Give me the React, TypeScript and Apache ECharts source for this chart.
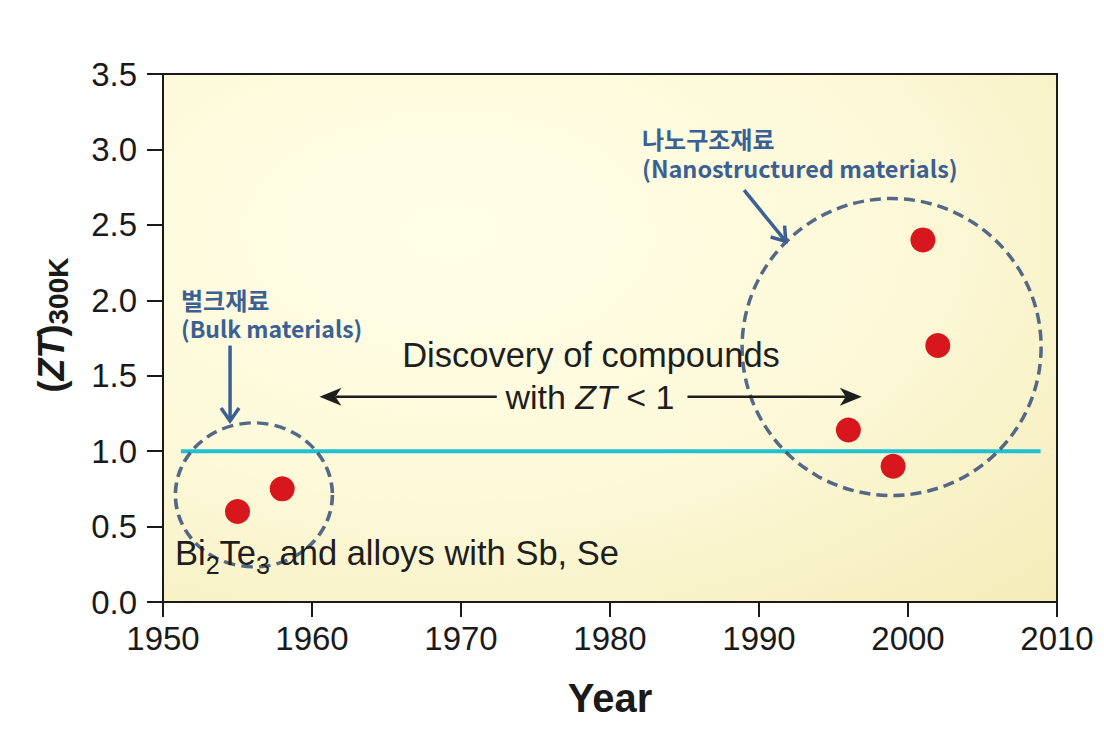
import React, { useEffect, useRef } from "react";
import * as echarts from "echarts";

// ---- data ----
const years = [1955, 1958, 1996, 1999, 2001, 2002];
const ztValues = [0.6, 0.75, 1.14, 0.9, 2.4, 1.7];
const thresholdLine = [[1951.2, 1.0], [2008.9, 1.0]];
// dashed group outlines: [centerYear, centerZT]
const groupCenters = [[1956.1, 0.71], [1998.9, 1.69]];
// blue annotation arrows: [x1, y1, x2, y2] (tail -> head)
const blueArrows = [
  [1954.5, 1.7, 1954.5, 1.2],
  [1989.0, 2.73, 1991.8, 2.39],
];
// black "Discovery" arrows: tail -> head
const blackArrows = [
  [1972.4, 1.36, 1960.5, 1.36],
  [1985.2, 1.36, 1996.9, 1.36],
];
// text pieces: [text, isSubscript]
const bulkCompound: [string, boolean][] = [
  ["Bi", false],
  ["2", true],
  ["Te", false],
  ["3", true],
  [" and alloys with Sb, Se", false],
];

const SANS = "'Liberation Sans', Arial, sans-serif";
const KR = "'Noto Sans CJK KR', 'Noto Sans', sans-serif";
const BLUE = "#3a6094";
const INK = "#1e1e1e";

let measureCtx: CanvasRenderingContext2D | null = null;
function textWidth(text: string, font: string) {
  if (!measureCtx) measureCtx = document.createElement("canvas").getContext("2d");
  if (!measureCtx) return text.length * 10;
  measureCtx.font = font;
  return measureCtx.measureText(text).width;
}

function arrowItem(kind: "blue" | "black") {
  return (params: any, api: any) => {
    const p1 = api.coord([api.value(0), api.value(1)]);
    const p2 = api.coord([api.value(2), api.value(3)]);
    const dx = p2[0] - p1[0];
    const dy = p2[1] - p1[1];
    const len = Math.sqrt(dx * dx + dy * dy);
    const ux = dx / len;
    const uy = dy / len;
    const nx = -uy;
    const ny = ux;
    if (kind === "blue") {
      const L = 13, W = 9;
      return {
        type: "group",
        children: [
          { type: "line", shape: { x1: p1[0], y1: p1[1], x2: p2[0], y2: p2[1] }, style: { stroke: BLUE, lineWidth: 3.5 } },
          {
            type: "polyline",
            shape: {
              points: [
                [p2[0] - ux * L + nx * W, p2[1] - uy * L + ny * W],
                [p2[0], p2[1]],
                [p2[0] - ux * L - nx * W, p2[1] - uy * L - ny * W],
              ],
            },
            style: { stroke: BLUE, lineWidth: 3.5, fill: "none" },
          },
        ],
      };
    }
    const L = 22, W = 9, N = 16;
    return {
      type: "group",
      children: [
        { type: "line", shape: { x1: p1[0], y1: p1[1], x2: p2[0] - ux * N, y2: p2[1] - uy * N }, style: { stroke: INK, lineWidth: 2.5 } },
        {
          type: "polygon",
          shape: {
            points: [
              [p2[0], p2[1]],
              [p2[0] - ux * L + nx * W, p2[1] - uy * L + ny * W],
              [p2[0] - ux * N, p2[1] - uy * N],
              [p2[0] - ux * L - nx * W, p2[1] - uy * L - ny * W],
            ],
          },
          style: { fill: INK },
        },
      ],
    };
  };
}

function buildCompoundLabel() {
  const mainSize = 34.5;
  const subSize = 25;
  let x = 175;
  const out: any[] = [];
  bulkCompound.forEach(([t, sub]) => {
    const size = sub ? subSize : mainSize;
    out.push({
      type: "text",
      x,
      y: sub ? 565 : 553,
      z: 100,
      style: { text: t, fontFamily: SANS, fontSize: size, fill: INK, verticalAlign: "middle", align: "left" },
    });
    x += textWidth(t, `${size}px ${SANS}`);
  });
  return out;
}

function buildYName() {
  const main = 36;
  const sub = 28;
  const pieces = [
    { t: "(", font: `bold ${main}px ${SANS}`, size: main, italic: false, dy: 0 },
    { t: "ZT", font: `italic bold ${main}px ${SANS}`, size: main, italic: true, dy: 0 },
    { t: ")", font: `bold ${main}px ${SANS}`, size: main, italic: false, dy: 0 },
    { t: "300K", font: `bold ${sub}px ${SANS}`, size: sub, italic: false, dy: 7 },
  ];
  const widths = pieces.map((p) => textWidth(p.t, p.font));
  const total = widths.reduce((a, b) => a + b, 0);
  let x = -total / 2;
  const children = pieces.map((p, i) => {
    const el = {
      type: "text",
      x,
      y: p.dy,
      style: {
        text: p.t,
        fontFamily: SANS,
        fontSize: p.size,
        fontWeight: "bold",
        fontStyle: p.italic ? "italic" : "normal",
        fill: "#1a1a1a",
        verticalAlign: "middle",
        align: "left",
      },
    };
    x += widths[i];
    return el;
  });
  return {
    type: "group",
    x: 51,
    y: 325,
    rotation: Math.PI / 2,
    children,
  };
}

export default function App() {
  const ref = useRef<HTMLDivElement>(null);
  useEffect(() => {
    if (!ref.current) return;
    const chart = echarts.init(ref.current, null, { renderer: "svg" });
    chart.setOption({
      animation: false,
      backgroundColor: "#ffffff",
      grid: {
        left: 163,
        right: 47,
        top: 74,
        bottom: 138,
        show: true,
        borderColor: "#1a1a1a",
        borderWidth: 2,
        backgroundColor: {
          type: "radial",
          x: 0.32,
          y: 0.3,
          r: 1.0,
          colorStops: [
            { offset: 0, color: "#fffee7" },
            { offset: 0.5, color: "#fdf9d9" },
            { offset: 1, color: "#f4ebb7" },
          ],
        },
      },
      xAxis: {
        type: "value",
        min: 1950,
        max: 2010,
        interval: 10,
        splitLine: { show: false },
        axisLine: { show: true, onZero: false, lineStyle: { color: "#1a1a1a", width: 2 } },
        axisTick: { show: true, length: 15, lineStyle: { color: "#1a1a1a", width: 2 } },
        axisLabel: {
          color: "#1a1a1a",
          fontSize: 33,
          fontFamily: SANS,
          margin: 20,
          formatter: (v: number) => String(v),
        },
        name: "Year",
        nameLocation: "middle",
        nameGap: 76,
        nameTextStyle: { color: "#1a1a1a", fontSize: 40, fontWeight: "bold", fontFamily: SANS },
      },
      yAxis: {
        type: "value",
        min: 0,
        max: 3.5,
        interval: 0.5,
        splitLine: { show: false },
        axisLine: { show: true, onZero: false, lineStyle: { color: "#1a1a1a", width: 2 } },
        axisTick: { show: true, length: 16, lineStyle: { color: "#1a1a1a", width: 2 } },
        axisLabel: {
          color: "#1a1a1a",
          fontSize: 33,
          fontFamily: SANS,
          margin: 26,
          formatter: (v: number) => v.toFixed(1),
        },
      },
      series: [
        {
          type: "line",
          data: thresholdLine,
          symbol: "none",
          lineStyle: { color: "#1fc1d2", width: 4 },
          z: 2,
        },
        {
          type: "scatter",
          data: groupCenters.map((c, i) => ({
            value: c,
            symbolSize: i === 0 ? [157, 144] : [299, 297],
          })),
          symbol: "circle",
          itemStyle: {
            color: "rgba(0,0,0,0)",
            borderColor: "#294572",
            borderWidth: 3.5,
            borderType: [11, 6],
          },
          z: 3,
          silent: true,
        },
        {
          type: "scatter",
          data: years.map((y, i) => [y, ztValues[i]]),
          symbol: "circle",
          symbolSize: 25,
          itemStyle: { color: "#d8161d", opacity: 1 },
          z: 4,
        },
        {
          type: "custom",
          data: blueArrows,
          renderItem: arrowItem("blue"),
          z: 5,
          silent: true,
        },
        {
          type: "custom",
          data: blackArrows,
          renderItem: arrowItem("black"),
          z: 5,
          silent: true,
        },
      ],
      graphic: [
        buildYName(),
        {
          type: "text",
          x: 181,
          y: 299,
          z: 100,
          style: { text: "벌크재료", fontFamily: KR, fontSize: 24, fontWeight: "bold", fill: BLUE, verticalAlign: "middle" },
        },
        {
          type: "text",
          x: 181,
          y: 328,
          z: 100,
          style: { text: "(Bulk materials)", fontFamily: KR, fontSize: 23, fontWeight: "bold", fill: BLUE, verticalAlign: "middle" },
        },
        {
          type: "text",
          x: 642,
          y: 138,
          z: 100,
          style: { text: "나노구조재료", fontFamily: KR, fontSize: 24, fontWeight: "bold", fill: BLUE, verticalAlign: "middle" },
        },
        {
          type: "text",
          x: 642,
          y: 168,
          z: 100,
          style: { text: "(Nanostructured materials)", fontFamily: KR, fontSize: 23.5, fontWeight: "bold", fill: BLUE, verticalAlign: "middle" },
        },
        {
          type: "text",
          x: 591,
          y: 355,
          z: 100,
          style: {
            text: "Discovery of compounds",
            fontFamily: SANS,
            fontSize: 34.5,
            fill: INK,
            align: "center",
            verticalAlign: "middle",
          },
        },
        {
          type: "text",
          x: 590,
          y: 397,
          z: 100,
          style: {
            text: "{n|with }{i|ZT}{n| < 1}",
            align: "center",
            verticalAlign: "middle",
            fill: INK,
            rich: {
              n: { fontFamily: SANS, fontSize: 34, fill: INK },
              i: { fontFamily: SANS, fontSize: 34, fontStyle: "italic", fill: INK },
            },
          },
        },
        ...buildCompoundLabel(),
      ],
    });
    return () => chart.dispose();
  }, []);
  return (
    <div
      ref={ref}
      style={{ position: "fixed", left: 0, top: 0, width: 1104, height: 740 }}
    />
  );
}
